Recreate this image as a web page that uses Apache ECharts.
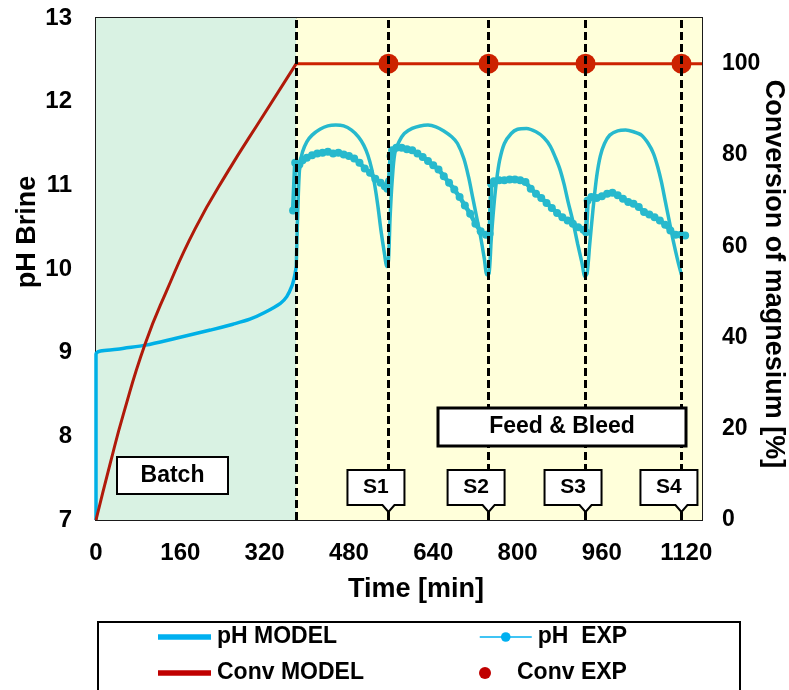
<!DOCTYPE html>
<html>
<head>
<meta charset="utf-8">
<script src="https://cdn.jsdelivr.net/npm/echarts/dist/echarts.min.js"></script>
<style>
  html, body { margin: 0; padding: 0; background: #fff; }
  #main { width: 789px; height: 690px; }
</style>
</head>
<body>
<div id="main"></div>
<script>
// 数据
const phModelBatch = [[0, 7], [0, 8.98], [40, 9.04], [94, 9.09], [150, 9.17], [217, 9.27], [260, 9.34], [292, 9.4], [320, 9.48], [350, 9.59], [362, 9.67], [372, 9.8], [377, 9.92], [380, 10.03]];
const phModelFeed = [[380, 10.03], [382, 10.5], [384, 10.9], [387, 11.25], [392, 11.4], [400, 11.52], [410, 11.6], [425, 11.67], [440, 11.71], [455, 11.72], [470, 11.71], [485, 11.66], [498, 11.58], [508, 11.48], [516, 11.36], [523, 11.2], [529, 11.0], [535, 10.75], [541, 10.45], [547, 10.2], [552, 10.03], [555, 10.1], [558, 10.6], [562, 11.05], [567, 11.38], [575, 11.52], [585, 11.62], [600, 11.68], [615, 11.71], [630, 11.72], [645, 11.7], [660, 11.65], [675, 11.58], [686, 11.5], [698, 11.32], [707, 11.1], [715, 10.85], [723, 10.6], [730, 10.38], [737, 10.12], [742, 9.93], [746, 9.95], [750, 10.35], [755, 10.75], [760, 11.05], [766, 11.3], [775, 11.5], [788, 11.62], [800, 11.67], [817, 11.68], [835, 11.64], [850, 11.57], [862, 11.47], [872, 11.33], [880, 11.2], [888, 11.02], [896, 10.8], [905, 10.57], [914, 10.3], [922, 10.08], [928, 9.91], [932, 9.95], [937, 10.3], [943, 10.7], [950, 11.1], [957, 11.35], [965, 11.5], [975, 11.6], [990, 11.65], [1005, 11.66], [1020, 11.64], [1035, 11.6], [1048, 11.5], [1058, 11.38], [1066, 11.22], [1073, 11.04], [1080, 10.82], [1088, 10.57], [1096, 10.32], [1104, 10.1], [1111, 9.93]];
const phExp = [[374, 10.7], [378, 11.27], [382, 11.2], [386, 11.25], [392, 11.3], [400, 11.33], [410, 11.36], [420, 11.38], [430, 11.39], [440, 11.4], [450, 11.38], [460, 11.39], [470, 11.37], [480, 11.35], [490, 11.32], [500, 11.27], [510, 11.2], [520, 11.15], [530, 11.08], [540, 11.03], [548, 10.99], [553, 10.96], [556, 11.05], [559, 11.35], [562, 11.42], [570, 11.45], [580, 11.45], [590, 11.43], [600, 11.42], [610, 11.38], [620, 11.34], [630, 11.29], [640, 11.24], [650, 11.19], [660, 11.11], [670, 11.03], [680, 10.95], [690, 10.86], [700, 10.76], [710, 10.66], [720, 10.54], [730, 10.45], [740, 10.41], [747, 10.42], [750, 11.02], [755, 11.05], [765, 11.06], [775, 11.06], [785, 11.07], [795, 11.07], [805, 11.06], [815, 11.04], [825, 10.96], [835, 10.9], [845, 10.85], [855, 10.79], [865, 10.73], [875, 10.67], [885, 10.62], [895, 10.58], [905, 10.54], [915, 10.5], [925, 10.47], [930, 10.44], [933, 10.82], [940, 10.86], [950, 10.85], [960, 10.87], [970, 10.9], [980, 10.91], [990, 10.88], [1000, 10.84], [1010, 10.8], [1020, 10.78], [1030, 10.74], [1040, 10.68], [1050, 10.65], [1060, 10.62], [1070, 10.58], [1080, 10.53], [1090, 10.46], [1100, 10.41], [1110, 10.41], [1118, 10.4]];
const convModelBatch = [[0, 0], [27, 12.4], [52, 23.2], [93, 38.5], [134, 50.2], [188, 63.8], [251, 76.5], [315, 88.2], [380, 100]];
const convModelFeed = [[380, 100], [1150, 100]];
const convExp = [[555, 100], [745, 100], [929, 100], [1111, 100]];
const phaseSwitch = 380;
const sampleTimes = [555, 745, 929, 1111];
const sampleLabels = ["S1", "S2", "S3", "S4"];

const FONT = "Liberation Sans";
const lblStyle = { fontFamily: FONT, fontWeight: "bold", fontSize: 24, color: "#000", formatter: (v) => String(v) };

let chartDom = document.getElementById("main");
let myChart = echarts.init(chartDom);

// 图例，每项一个
function legendItem(left, top, w, item) {
  return {
    left: left,
    top: top,
    orient: "vertical",
    itemWidth: w,
    itemHeight: 12,
    itemGap: 0,
    selectedMode: false,
    padding: 0,
    textStyle: { fontFamily: FONT, fontWeight: "bold", fontSize: 23, color: "#000", lineHeight: 24, padding: [0, 0, 0, 1] },
    data: [item],
  };
}

let options = {
  animation: false,
  grid: {
    left: 96,
    right: 87,
    top: 18,
    bottom: 170,
    containLabel: false,
    outerBoundsMode: "none",
    show: true,
    borderColor: "#1a1a1a",
    borderWidth: 2,
    backgroundColor: "transparent",
  },
  xAxis: {
    type: "value",
    min: 0,
    max: 1150,
    interval: 160,
    axisLine: { show: true, lineStyle: { color: "#1a1a1a", width: 2 } },
    axisTick: { show: true, inside: true, length: 6, lineStyle: { color: "#1a1a1a", width: 1.5 } },
    axisLabel: Object.assign({ margin: 21, showMaxLabel: false }, lblStyle),
    splitLine: { show: false },
  },
  yAxis: [
    {
      type: "value",
      min: 7,
      max: 13,
      interval: 1,
      axisLine: { show: true, lineStyle: { color: "#1a1a1a", width: 2 } },
      axisTick: { show: true, inside: true, length: 6, lineStyle: { color: "#1a1a1a", width: 1.5 } },
      axisLabel: Object.assign({ margin: 24 }, lblStyle),
      splitLine: { show: false },
    },
    {
      type: "value",
      min: 0,
      max: 110,
      interval: 20,
      position: "right",
      axisLine: { show: true, lineStyle: { color: "#1a1a1a", width: 2 } },
      axisTick: { show: true, inside: true, length: 6, lineStyle: { color: "#1a1a1a", width: 1.5 } },
      axisLabel: Object.assign({ margin: 20, showMaxLabel: false }, lblStyle, { fontSize: 23 }),
      splitLine: { show: false },
    },
  ],
  legend: [
    legendItem(158, 625, 53, { name: "pH MODEL", icon: "path://M0,0H10V1H0Z", itemStyle: { color: "#00b0f0" } }),
    legendItem(158, 661, 53, { name: "Conv MODEL", icon: "path://M0,0H10V1H0Z", itemStyle: { color: "#c00000" } }),
    legendItem(479, 625, 52, { name: "pH  EXP", itemStyle: { color: "#00b0f0" }, lineStyle: { color: "#00b0f0", width: 1.5 } }),
    legendItem(479, 661, 52, { name: "Conv EXP", itemStyle: { color: "#c00000" } }),
  ],
  series: [
    {
      // 背景和虚线
      name: "guides",
      type: "line",
      data: [],
      symbol: "none",
      markArea: {
        silent: true,
        itemStyle: { opacity: 1 },
        data: [
          [{ xAxis: 0, itemStyle: { color: "#d9f2e3" } }, { xAxis: phaseSwitch }],
          [{ xAxis: phaseSwitch, itemStyle: { color: "#ffffda" } }, { xAxis: 1150 }],
        ],
      },
      markLine: {
        silent: true,
        symbol: "none",
        label: { show: false },
        lineStyle: { color: "#000", width: 3, type: [8, 4] },
        data: [phaseSwitch].concat(sampleTimes).map((t) => ({ xAxis: t })),
      },
    },
    {
      name: "pH MODEL",
      type: "line",
      yAxisIndex: 0,
      data: phModelBatch,
      symbol: "none",
      smooth: 0.3,
      lineStyle: { color: "#00b0e6", width: 3.5 },
      itemStyle: { color: "#00b0e6" },
    },
    {
      name: "pH MODEL",
      type: "line",
      yAxisIndex: 0,
      data: phModelFeed,
      symbol: "none",
      smooth: 0.3,
      lineStyle: { color: "#27b9cd", width: 3.5 },
      itemStyle: { color: "#27b9cd" },
    },
    {
      name: "pH  EXP",
      type: "line",
      yAxisIndex: 0,
      data: phExp,
      symbol: "circle",
      symbolSize: 8,
      lineStyle: { color: "#27b9cd", width: 4.5 },
      itemStyle: { color: "#27b9cd" },
    },
    {
      name: "Conv MODEL",
      type: "line",
      yAxisIndex: 1,
      data: convModelBatch,
      symbol: "none",
      smooth: 0.5,
      lineStyle: { color: "#b01a0a", width: 3 },
      itemStyle: { color: "#b01a0a" },
    },
    {
      name: "Conv MODEL",
      type: "line",
      yAxisIndex: 1,
      data: convModelFeed,
      symbol: "none",
      lineStyle: { color: "#cc2200", width: 3 },
      itemStyle: { color: "#cc2200" },
    },
    {
      name: "Conv EXP",
      type: "scatter",
      yAxisIndex: 1,
      data: convExp,
      symbolSize: 20,
      itemStyle: { color: "#cc2200", opacity: 1 },
      z: 4,
    },
  ],
};
options && myChart.setOption(options);

// 标注框
function textBox(x, y, w, h, txt, lw) {
  return {
    type: "group",
    children: [
      { type: "rect", shape: { x: x, y: y, width: w, height: h }, style: { fill: "#fff", stroke: "#000", lineWidth: lw }, z: 20 },
      { type: "text", x: x + w / 2, y: y + h / 2, style: { text: txt, fontFamily: FONT, fontWeight: "bold", fontSize: 23, fill: "#000", align: "center", verticalAlign: "middle" }, z: 21 },
    ],
  };
}

let titleStyle = { fontFamily: FONT, fontWeight: "bold", fontSize: 27, fill: "#000", align: "center", verticalAlign: "middle" };

let graphics = [
  textBox(117, 457, 111, 37, "Batch", 2),
  textBox(438, 408, 248, 38, "Feed & Bleed", 3),
  { type: "text", x: 28, y: 232, rotation: Math.PI / 2, style: Object.assign({ text: "pH Brine" }, titleStyle) },
  { type: "text", x: 773, y: 274, rotation: -Math.PI / 2, style: Object.assign({ text: "Conversion of magnesium [%]" }, titleStyle) },
  { type: "text", x: 416, y: 590, style: Object.assign({ text: "Time [min]" }, titleStyle) },
  { type: "rect", shape: { x: 98, y: 622, width: 642, height: 80 }, style: { fill: "none", stroke: "#000", lineWidth: 2 } },
];

sampleTimes.forEach((t, i) => {
  let nx = myChart.convertToPixel({ xAxisIndex: 0 }, t);
  let x0 = nx - 41, x1 = nx + 16, y0 = 470, y1 = 505;
  graphics.push({
    type: "polygon",
    shape: { points: [[x0, y0], [x1, y0], [x1, y1], [nx + 6, y1], [nx, y1 + 7], [nx - 6, y1], [x0, y1]] },
    style: { fill: "#fff", stroke: "#000", lineWidth: 2 },
    z: 20,
  });
  graphics.push({
    type: "text", x: (x0 + x1) / 2, y: (y0 + y1) / 2, z: 21,
    style: { text: sampleLabels[i], fontFamily: FONT, fontWeight: "bold", fontSize: 21, fill: "#000", align: "center", verticalAlign: "middle" },
  });
});

myChart.setOption({ graphic: graphics });
window.onresize = myChart.resize;
</script>
</body>
</html>
